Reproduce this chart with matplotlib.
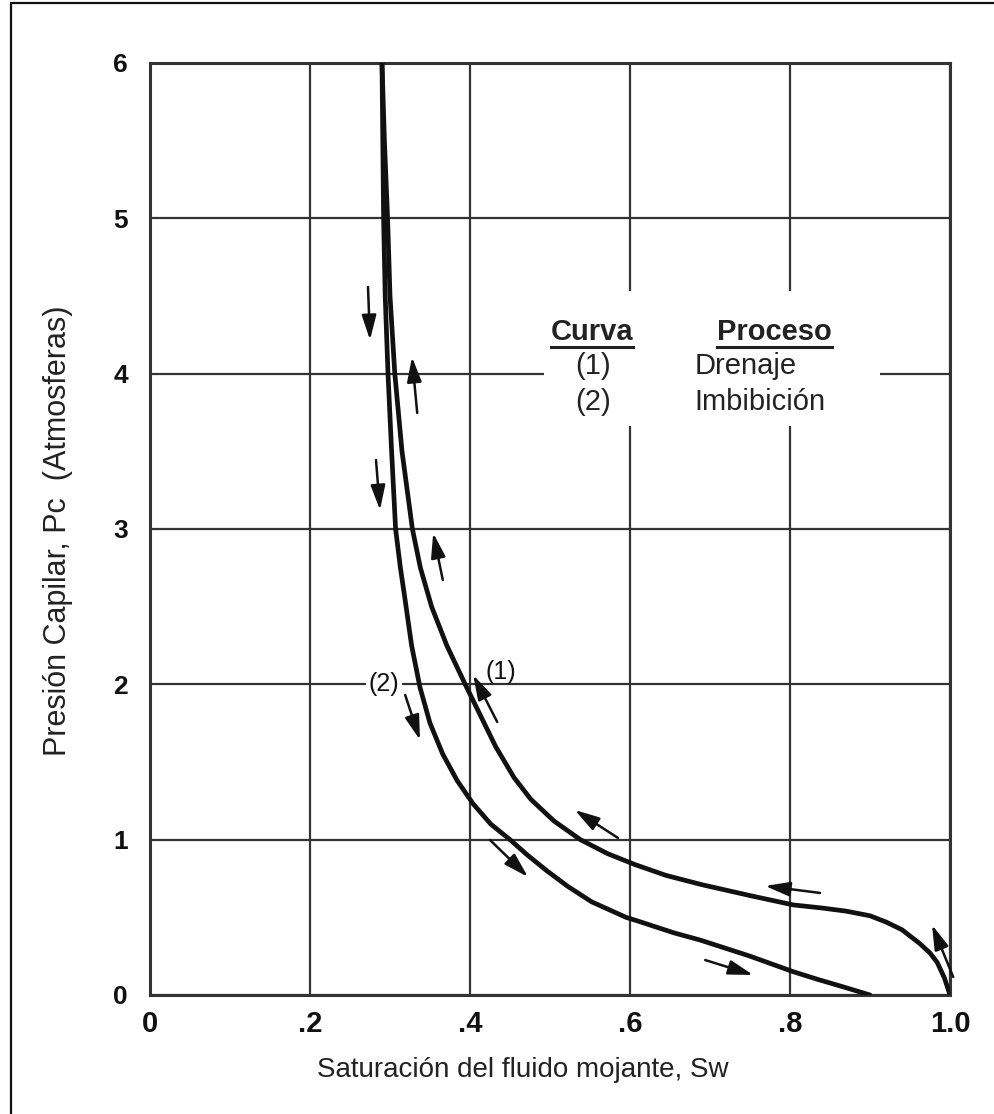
import matplotlib
matplotlib.use("Agg")
import matplotlib.pyplot as plt
from matplotlib.patches import Rectangle
from matplotlib.lines import Line2D

# Curve (1): drainage
drain_sw = [0.290, 0.293, 0.297, 0.300, 0.306, 0.315, 0.328, 0.338, 0.352, 0.371,
            0.394, 0.413, 0.432, 0.455, 0.476, 0.505, 0.538, 0.572, 0.606, 0.645,
            0.690, 0.750, 0.804, 0.840, 0.870, 0.900, 0.920, 0.940, 0.9625, 0.975,
            0.984, 0.993, 1.000]
drain_pc = [6.00, 5.50, 5.00, 4.50, 4.00, 3.50, 3.00, 2.75, 2.50, 2.25,
            2.00, 1.80, 1.60, 1.40, 1.26, 1.12, 1.00, 0.91, 0.84, 0.77,
            0.71, 0.64, 0.58, 0.56, 0.54, 0.51, 0.47, 0.42, 0.33, 0.27,
            0.21, 0.11, 0.00]

# Curve (2): imbibition
imb_sw = [0.290, 0.291, 0.292, 0.294, 0.2975, 0.302, 0.307, 0.313, 0.319, 0.327,
          0.3375, 0.350, 0.366, 0.384, 0.404, 0.426, 0.450, 0.472, 0.496, 0.522,
          0.552, 0.595, 0.6075, 0.655, 0.6875, 0.720, 0.750, 0.777, 0.804, 0.835,
          0.868, 0.900]
imb_pc = [6.00, 5.50, 5.00, 4.50, 4.00, 3.50, 3.00, 2.75, 2.54, 2.25,
          1.98, 1.75, 1.55, 1.38, 1.23, 1.10, 1.00, 0.90, 0.80, 0.70,
          0.60, 0.50, 0.48, 0.40, 0.354, 0.30, 0.25, 0.20, 0.15, 0.10,
          0.05, 0.00]

# direction arrows (tail -> tip)
arrow_tail_x = [0.2725, 0.334, 0.2825, 0.366, 0.319, 0.434, 0.425, 0.585, 0.8375, 0.694, 1.004]
arrow_tail_y = [4.558, 3.747, 3.444, 2.672, 1.931, 1.758, 0.998, 1.011, 0.657, 0.225, 0.116]
arrow_tip_x = [0.275, 0.3275, 0.2875, 0.354, 0.3375, 0.404, 0.4725, 0.531, 0.769, 0.754, 0.9775]
arrow_tip_y = [4.217, 4.107, 3.122, 2.974, 1.642, 2.060, 0.760, 1.191, 0.702, 0.129, 0.451]

x_ticks = [0, 0.2, 0.4, 0.6, 0.8, 1.0]
x_ticklabels = ["0", ".2", ".4", ".6", ".8", "1.0"]
y_ticks = [0, 1, 2, 3, 4, 5, 6]

curve_ids = ["(1)", "(2)"]
processes = ["Drenaje", "Imbibición"]

INK = "#111111"
GRID = "#333333"
FONT = ["Liberation Sans", "DejaVu Sans"]

fig = plt.figure(figsize=(9.94, 11.14), dpi=100, facecolor="white")
ax = fig.add_axes([150 / 994, 119 / 1114, 800 / 994, 932 / 1114])

ax.set_xlim(0, 1.0)
ax.set_ylim(0, 6)
ax.set_xticks(x_ticks)
ax.set_xticklabels(x_ticklabels)
ax.set_yticks(y_ticks)
ax.tick_params(length=0)
ax.tick_params(axis="x", pad=11)
ax.tick_params(axis="y", pad=16)
for lab in ax.get_xticklabels():
    lab.set_fontfamily(FONT)
    lab.set_fontweight("bold")
    lab.set_fontsize(21)
    lab.set_color(INK)
for lab in ax.get_yticklabels():
    lab.set_fontfamily(FONT)
    lab.set_fontweight("bold")
    lab.set_fontsize(19)
    lab.set_color(INK)
for sp in ax.spines.values():
    sp.set_linewidth(2.2)
    sp.set_color(GRID)
ax.grid(True, color=GRID, linewidth=1.6)

# white panel behind the legend text hides the grid
ax.add_patch(Rectangle((0.4925, 3.66), 0.42, 0.87, facecolor="white",
                       edgecolor="none", zorder=2))

ax.plot(drain_sw, drain_pc, color=INK, lw=3.4, zorder=4,
        solid_capstyle="round", solid_joinstyle="round")
ax.plot(imb_sw, imb_pc, color=INK, lw=3.4, zorder=4,
        solid_capstyle="round", solid_joinstyle="round")

for tx, ty, hx, hy in zip(arrow_tail_x, arrow_tail_y, arrow_tip_x, arrow_tip_y):
    ax.annotate("", xy=(hx, hy), xytext=(tx, ty), zorder=5,
                arrowprops=dict(arrowstyle="-|>,head_length=0.75,head_width=0.22",
                                lw=1.8, color=INK, shrinkA=0, shrinkB=0,
                                mutation_scale=20))

# curve tags
ax.text(0.2925, 2.0, "(2)", ha="center", va="center", fontsize=18,
        family=FONT, color=INK, zorder=3,
        bbox=dict(facecolor="white", edgecolor="none", pad=2))
ax.text(0.439, 2.08, "(1)", ha="center", va="center", fontsize=18,
        family=FONT, color=INK, zorder=3)

# legend table
hdr_curva = ax.text(0.5525, 4.268, "Curva", ha="center", va="center", fontsize=21,
                    fontweight="bold", family=FONT, color="#222", zorder=6)
hdr_proc = ax.text(0.781, 4.268, "Proceso", ha="center", va="center", fontsize=21,
                   fontweight="bold", family=FONT, color="#222", zorder=6)
for i, (cid, proc) in enumerate(zip(curve_ids, processes)):
    y = 4.05 - i * 0.232
    ax.text(0.554, y, cid, ha="center", va="center", fontsize=21,
            family=FONT, color="#222", zorder=6)
    ax.text(0.681, y, proc, ha="left", va="center", fontsize=21,
            family=FONT, color="#222", zorder=6)

fig.text(58 / 994, 1 - 531 / 1114, "Presión Capilar, Pc  (Atmosferas)", rotation=90,
         ha="center", va="center", fontsize=22, family=FONT, color="#222")
fig.text(523 / 994, 1 - 1070 / 1114, "Saturación del fluido mojante, Sw",
         ha="center", va="center", fontsize=20, family=FONT, color="#222")

# underline the legend headers
fig.canvas.draw()
renderer = fig.canvas.get_renderer()
W, H = fig.bbox.width, fig.bbox.height
for t in (hdr_curva, hdr_proc):
    bb = t.get_window_extent(renderer)
    yline = (bb.y0 - 1) / H
    fig.add_artist(Line2D([bb.x0 / W, bb.x1 / W], [yline, yline], color="#222", lw=2.2))

# outer frame (only left and top edges fall inside the picture)
fig.add_artist(Rectangle((11 / 994, -0.1), 1.2, 1.1 - 3 / 1114, transform=fig.transFigure,
                         facecolor="none", edgecolor="#111", lw=1.6))

fig.savefig("out.png", dpi=100, facecolor="white")
